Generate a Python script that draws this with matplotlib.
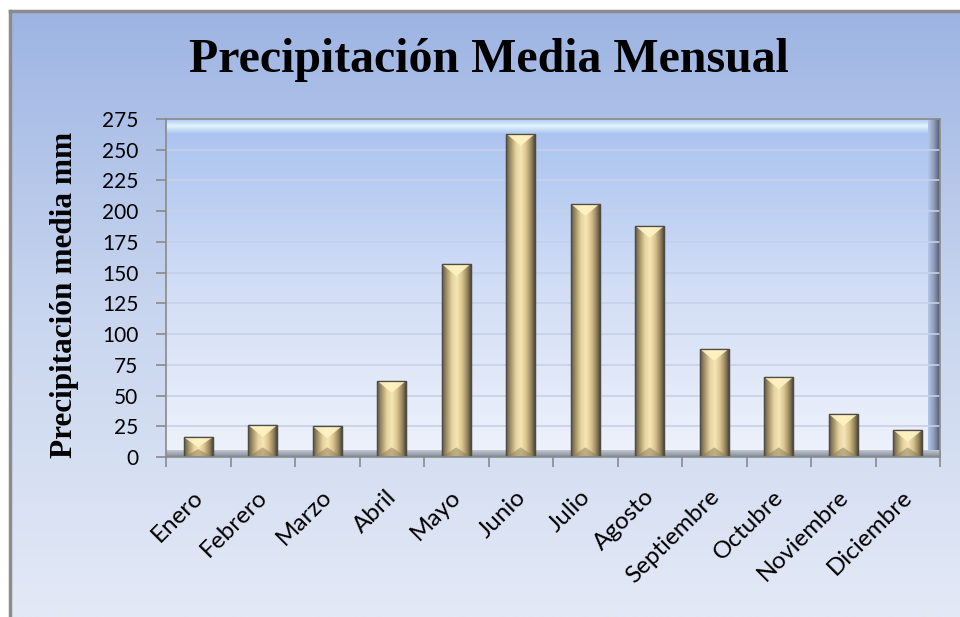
import numpy as np
import matplotlib
matplotlib.use("Agg")
import matplotlib.pyplot as plt
import matplotlib.transforms as mtransforms
from matplotlib.colors import LinearSegmentedColormap
from matplotlib.lines import Line2D
from matplotlib.patches import Polygon

# data
meses = ['Enero', 'Febrero', 'Marzo', 'Abril', 'Mayo', 'Junio', 'Julio',
         'Agosto', 'Septiembre', 'Octubre', 'Noviembre', 'Diciembre']
precip = [16, 26, 25, 62, 157, 263, 206, 188, 88, 65, 35, 22]
yticks = [0, 25, 50, 75, 100, 125, 150, 175, 200, 225, 250, 275]

titulo = 'Precipitación Media Mensual'
ylabel = 'Precipitación media mm'

fig = plt.figure(figsize=(9.6, 6.17), dpi=100)

# background of the whole chart (vertical gradient) + grey frame top/left
bg = fig.add_axes([0, 0, 1, 1], zorder=-5)
bg.set_axis_off()
bg.set_xlim(0, 1)
bg.set_ylim(0, 1)
cm_bg = LinearSegmentedColormap.from_list('bg', ['#e3e9f6', '#c9d6ef', '#9db4e3'])
grad = np.linspace(0, 1, 256).reshape(-1, 1)
bg.imshow(grad, cmap=cm_bg, extent=[10 / 960, 1, 0, 1 - 11 / 617],
          aspect='auto', origin='lower')
bg.add_line(Line2D([10 / 960, 1], [1 - 11 / 617] * 2, color='#8c8c8c', lw=2.5))
bg.add_line(Line2D([10 / 960] * 2, [0, 1 - 11 / 617], color='#8c8c8c', lw=2.5))

ax = fig.add_axes([166 / 960, 1 - 457 / 617, 774 / 960, 338 / 617])
ax.set_facecolor('none')

# plot area gradient (back wall)
cm_wall = LinearSegmentedColormap.from_list('wall', ['#eef2fb', '#d2def6', '#a8c2ef'])
ax.imshow(grad, cmap=cm_wall, extent=[0, 1, 0, 1], transform=ax.transAxes,
          aspect='auto', origin='lower', zorder=0)
# top bevel highlight
cm_top = LinearSegmentedColormap.from_list('top', ['#a9c3ef', '#e2f4ff', '#a6c0ec'])
ax.imshow(grad, cmap=cm_top, extent=[0, 1, 0.955, 1], transform=ax.transAxes,
          aspect='auto', origin='lower', zorder=1)
# right side wall
cm_side = LinearSegmentedColormap.from_list('side', ['#b4c6ea', '#8e9cb8', '#4e586e'])
ax.imshow(grad.T, cmap=cm_side, extent=[0.985, 1, 0, 1], transform=ax.transAxes,
          aspect='auto', origin='lower', zorder=1)
# floor
cm_floor = LinearSegmentedColormap.from_list('floor', ['#7f8797', '#c3c8d2'])
ax.imshow(grad, cmap=cm_floor, extent=[0, 1, 0, 0.02], transform=ax.transAxes,
          aspect='auto', origin='lower', zorder=1)

ax.set_xlim(-0.5, 11.5)
ax.set_ylim(0, 275)

for yv in yticks[1:-1]:
    ax.axhline(yv, color='#c5d1e8', lw=1.2, zorder=1.5)

x = np.arange(len(meses))
bars = ax.bar(x, precip, width=0.45, color='#d6c290', edgecolor='#4e4a44',
              linewidth=0.9, zorder=3)

cm_bar = LinearSegmentedColormap.from_list(
    'bar', ['#5e5646', '#a8966c', '#e6d3a0', '#f6e6b6', '#dcc690', '#9c8a62', '#3f3a32'])
hgrad = np.linspace(0, 1, 256).reshape(1, -1)
px_per_unit = 338 / 275
for b in bars:
    x0, w, h = b.get_x(), b.get_width(), b.get_height()
    im = ax.imshow(hgrad, cmap=cm_bar, extent=[x0, x0 + w, 0, h],
                   aspect='auto', zorder=3.1)
    im.set_clip_path(b)
    d = min(12 / px_per_unit, h / 2)
    ax.add_patch(Polygon([[x0, h], [x0 + w, h], [x0 + w / 2, h - d]],
                         closed=True, facecolor='#fff3c4', edgecolor='none',
                         alpha=0.9, zorder=3.2))
    ax.add_patch(Polygon([[x0, 0], [x0 + w, 0], [x0 + w / 2, d * 0.8]],
                         closed=True, facecolor='#8a7a56', edgecolor='none',
                         alpha=0.5, zorder=3.2))
    ax.add_patch(Polygon([[x0, 0], [x0 + w, 0], [x0 + w, h], [x0, h]],
                         closed=True, facecolor='none', edgecolor='#4e4a44',
                         lw=0.9, zorder=3.3))

for s in ax.spines.values():
    s.set_color('#8a8a8a')
    s.set_linewidth(1.2)
    s.set_zorder(4)

ax.set_yticks(yticks)
ax.set_yticklabels([str(v) for v in yticks], fontfamily='Lato', fontsize=15)
ax.tick_params(axis='y', length=7, width=1.2, color='#8a8a8a', pad=13)

ax.set_xticks(x)
ax.set_xticklabels(meses, fontfamily='Lato', fontsize=17.5, rotation=45,
                   ha='right', rotation_mode='anchor')
ax.tick_params(axis='x', which='major', length=0, pad=21)
ax.set_xticks(np.arange(-0.5, 12, 1), minor=True)
ax.tick_params(axis='x', which='minor', length=7, width=1.2, color='#8a8a8a')
shift = mtransforms.ScaledTranslation(-6 / 100, 0, fig.dpi_scale_trans)
for lbl in ax.get_xticklabels():
    lbl.set_transform(lbl.get_transform() + shift)

ax.set_ylabel(ylabel, fontfamily='Liberation Serif', fontweight='bold',
              fontsize=22.5)
ax.yaxis.set_label_coords(-0.112, 0.479)

fig.text(489 / 960, 1 - 60 / 617, titulo, fontfamily='Liberation Serif',
         fontweight='bold', fontsize=34.5, ha='center', va='center')

fig.savefig('out.png', dpi=100)
